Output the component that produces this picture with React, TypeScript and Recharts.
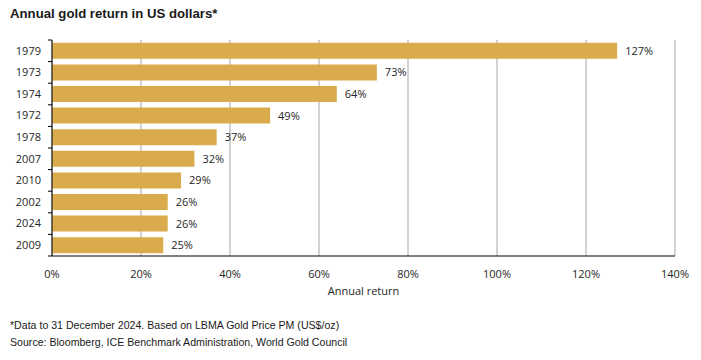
import { BarChart, Bar, XAxis, YAxis, CartesianGrid, LabelList } from 'recharts';

const years = ['1979', '1973', '1974', '1972', '1978', '2007', '2010', '2002', '2024', '2009'];
const returns = [127, 73, 64, 49, 37, 32, 29, 26, 26, 25];
const xTicks = [0, 20, 40, 60, 80, 100, 120, 140];

const data = years.map((year, i) => ({ year, value: returns[i] }));

const GOLD = '#d9ab4d';
const TEXT = '#262626';
const AXIS_X = 52;
const PLOT_TOP = 40;
const PLOT_H = 216;
const BAND = PLOT_H / years.length;

// year label plus the little tick marks that sit between categories
function YearTick(props: any) {
  const { y, payload, index } = props;
  return (
    <g>
      <text x={AXIS_X - 11} y={y} dy="0.35em" textAnchor="end" fill={TEXT} fontSize={11}>
        {payload.value}
      </text>
      <line x1={AXIS_X - 4} x2={AXIS_X} y1={y - BAND / 2} y2={y - BAND / 2} stroke="#000" />
      {index === years.length - 1 && (
        <line x1={AXIS_X - 4} x2={AXIS_X} y1={y + BAND / 2} y2={y + BAND / 2} stroke="#000" />
      )}
    </g>
  );
}

export default function App() {
  return (
    <div style={{ position: 'absolute', left: 0, top: 0, width: 701, height: 360, background: '#fff', fontFamily: '"Open Sans", sans-serif' }}>
      <div style={{ position: 'absolute', left: 10, top: 6, fontFamily: '"Liberation Sans", Arial, sans-serif', fontWeight: 'bold', fontSize: 13.2, color: '#1a1a1a' }}>
        Annual gold return in US dollars*
      </div>
      <BarChart
        width={701}
        height={300}
        data={data}
        layout="vertical"
        margin={{ top: PLOT_TOP, right: 26, left: 0, bottom: 0 }}
        barCategoryGap="13%"
      >
        <CartesianGrid horizontal={false} stroke="#a6a6a6" />
        <XAxis
          type="number"
          domain={[0, 140]}
          ticks={xTicks}
          tickFormatter={(v) => `${v}%`}
          axisLine={{ stroke: '#000' }}
          tickLine={false}
          tickMargin={8}
          tick={{ fill: TEXT, fontSize: 11 }}
          height={44}
          label={{ value: 'Annual return', position: 'insideBottom', offset: 5, fill: TEXT, fontSize: 11 }}
        />
        <YAxis
          type="category"
          dataKey="year"
          width={AXIS_X}
          axisLine={{ stroke: '#000' }}
          tickLine={false}
          tick={<YearTick />}
          interval={0}
        />
        <Bar dataKey="value" fill={GOLD} isAnimationActive={false}>
          <LabelList
            dataKey="value"
            position="right"
            offset={8}
            formatter={(v: any) => `${v}%`}
            fill={TEXT}
            fontSize={11}
          />
        </Bar>
      </BarChart>
      <div style={{ position: 'absolute', left: 10, top: 317, fontFamily: '"Liberation Sans", Arial, sans-serif', fontSize: 10.6, color: '#1a1a1a', lineHeight: '17px' }}>
        <div>*Data to 31 December 2024. Based on LBMA Gold Price PM (US$/oz)</div>
        <div>Source: Bloomberg, ICE Benchmark Administration, World Gold Council</div>
      </div>
    </div>
  );
}
